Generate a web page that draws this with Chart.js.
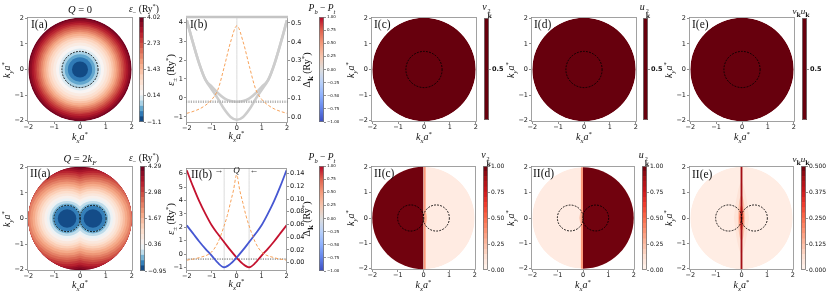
<!DOCTYPE html>
<html>
<head>
<meta charset="utf-8">
<title>Pairing in k-space</title>
<script src="https://cdn.jsdelivr.net/npm/chart.js@4.4.1/dist/chart.umd.min.js"></script>
<style>
  html, body { margin: 0; padding: 0; background: #fff; }
  body { position: relative; width: 831px; height: 295px; overflow: hidden; }
  canvas { position: absolute; }
  .lbl { position: absolute; font-family: "Liberation Serif", "DejaVu Serif", serif; color: #111; white-space: nowrap; line-height: 1; }
  .lbl sub, .lbl sup { font-size: 68%; line-height: 0; }
  .lbl b { font-family: "DejaVu Serif", serif; font-weight: bold; font-style: normal; }
  .ss { display: inline-flex; flex-direction: column; font-size: 62%; line-height: 0.95; vertical-align: -0.42em; margin-left: 1px; }
</style>
</head>
<body>
<script>
// ---- k-space axes ----
const kTicks = [-2, -1, 0, 1, 2];
const kDiskR = 2;          // k cutoff of the maps
const kyFull = 2.1;

// ---- I(a): eps_- at Q = 0, contour levels and the radius where each upper level is reached ----
const levelsIa = [-1.15, -0.89, -0.63, -0.37, -0.11, 0.14, 0.40, 0.66, 0.92, 1.18, 1.43, 1.69, 1.95, 2.21, 2.47, 2.73, 2.98, 3.24, 3.50, 3.76, 4.02];
const radiiIa = [0.31, 0.47, 0.59, 0.70, 0.81, 0.93, 1.04, 1.14, 1.23, 1.31, 1.39, 1.46, 1.53, 1.60, 1.67, 1.73, 1.80, 1.87, 1.94, 2.00];
const cbTicksIa = [-1.15, 0.14, 1.43, 2.73, 4.02];
const cbLabelsIa = ['\u22121.1', '0.14', '1.43', '2.73', '4.02'];

// ---- II(a): eps_- at Q = 2kF, two lobes; radius = distance to nearest lobe centre ----
const lobesIIa = [-0.5, 0.5];
const levelsIIa = [-0.95, -0.69, -0.43, -0.16, 0.10, 0.36, 0.62, 0.88, 1.15, 1.41, 1.67, 1.93, 2.19, 2.46, 2.72, 2.98, 3.24, 3.50, 3.77, 4.03, 4.29];
const radiiIIa = [0.36, 0.49, 0.58, 0.68, 0.78, 0.88, 0.98, 1.07, 1.16, 1.25, 1.34, 1.43, 1.52, 1.61, 1.69, 1.77, 1.85, 1.92, 1.99, 2.06];
const cbTicksIIa = [-0.95, 0.36, 1.67, 2.98, 4.29];
const cbLabelsIIa = ['\u22120.95', '0.36', '1.67', '2.98', '4.29'];

// ---- Fermi contours (dashed) ----
const fermiI = { centers: [0], radius: 0.70 };
const fermiII = { centers: [-0.5, 0.5], radius: 0.51 };

// ---- coherence factors ----
const coherI = 0.5;                       // v^2 = u^2 = vu = 0.5 everywhere at Q = 0
const flatLevels = [0.45, 0.55];
const levelsV2 = [0.00, 0.05, 0.10, 0.15, 0.20, 0.25, 0.30, 0.35, 0.40, 0.45, 0.50, 0.55, 0.60, 0.65, 0.70, 0.75, 0.80, 0.85, 0.90, 0.95, 1.00];
const cbTicksV2 = [0, 0.25, 0.5, 0.75, 1];
const levelsVU = [0.000, 0.025, 0.050, 0.075, 0.100, 0.125, 0.150, 0.175, 0.200, 0.225, 0.250, 0.275, 0.300, 0.325, 0.350, 0.375, 0.400, 0.425, 0.450, 0.475, 0.500];
const cbTicksVU = [0, 0.125, 0.25, 0.375, 0.5];

// II(c) v_k^2 : base value, then columns [kx from, kx to, value]
const v2IIcBase = 0.06;
const v2IIcCols = [[-2.1, 0.0, 0.98], [0.0, 0.09, 0.35]];
const v2IIcLensKx = [0.0, 0.05, 0.10, 0.15], v2IIcLensKy = [0, 0.28, 0.22, 0], v2IIcLensV = 0.22;
// II(d) u_k^2
const u2IIdBase = 0.06;
const u2IIdCols = [[0.0, 2.1, 0.98], [-0.09, 0.0, 0.35]];
const u2IIdLensKx = [-0.15, -0.10, -0.05, 0.0], u2IIdLensKy = [0, 0.22, 0.28, 0], u2IIdLensV = 0.22;
// II(e) v_k u_k
const vuIIeBase = 0.025;
const vuIIeLenses = [
  { kx: [-0.30, -0.15, 0, 0.15, 0.30], ky: [0, 1.0, 1.4, 1.0, 0], v: 0.05 },
  { kx: [-0.15, -0.08, 0, 0.08, 0.15], ky: [0, 0.7, 0.9, 0.7, 0], v: 0.11 },
  { kx: [-0.10, -0.05, 0, 0.05, 0.10], ky: [0, 0.4, 0.5, 0.4, 0], v: 0.22 }
];
const vuIIeCols = [[-0.045, 0.045, 0.44]];

// ---- I(b) dispersions at Q = 0 ----
const kLine = [-2, -1.75, -1.5, -1.25, -1, -0.75, -0.5, -0.25, 0, 0.25, 0.5, 0.75, 1, 1.25, 1.5, 1.75, 2];
const epsLowIb  = [4.1, 2.9, 1.8, 0.95, 0.45, -0.05, -0.6, -1.0, -1.15, -1.0, -0.6, -0.05, 0.45, 0.95, 1.8, 2.9, 4.1];
const epsHighIb = [4.1, 2.9, 1.8, 0.95, 0.6, 0.25, -0.02, -0.16, -0.2, -0.16, -0.02, 0.25, 0.6, 0.95, 1.8, 2.9, 4.1];
const gapIb = [0.022, 0.032, 0.045, 0.065, 0.095, 0.15, 0.27, 0.40, 0.485, 0.40, 0.27, 0.15, 0.095, 0.065, 0.045, 0.032, 0.022];
const muIb = -0.2;
const vlineIb = [0];
const epsTicksIb = [-1, 0, 1, 2, 3, 4];
const gapTicksIb = [0, 0.1, 0.2, 0.3, 0.4, 0.5];

// ---- II(b) dispersions at Q = 2kF ----
const epsBlueIIb = [2.15, 1.55, 0.95, 0.4, -0.1, -0.65, -0.97, -0.72, -0.25, 0.3, 0.9, 1.5, 2.15, 3.0, 3.95, 5.05, 6.25];
const epsRedIIb  = [6.25, 5.05, 3.95, 3.0, 2.15, 1.5, 0.9, 0.3, -0.25, -0.72, -0.97, -0.65, -0.1, 0.4, 0.95, 1.55, 2.15];
const kGapIIb = [-2, -1.5, -1, -0.75, -0.5, -0.375, -0.25, -0.125, 0, 0.125, 0.25, 0.375, 0.5, 0.75, 1, 1.5, 2];
const gapIIb  = [0.004, 0.008, 0.017, 0.032, 0.058, 0.074, 0.094, 0.114, 0.138, 0.114, 0.094, 0.074, 0.058, 0.032, 0.017, 0.008, 0.004];
const muIIb = -0.36;
const vlinesIIb = [-0.5, 0.5];
const epsTicksIIb = [-1, 0, 1, 2, 3, 4, 5, 6];
const gapTicksIIb = [0, 0.02, 0.04, 0.06, 0.08, 0.10, 0.12, 0.14];
const polTicks = [-1, -0.75, -0.5, -0.25, 0, 0.25, 0.5, 0.75, 1];

// ---- layout (px): [left, top, right, bottom] of each plot box ----
const boxes = {
  Ia: [27, 17, 133, 122], cbIa: [139, 17, 144, 122],
  Ib: [186, 16, 288, 123], cbIb: [319, 17, 324, 122],
  Ic: [371, 17, 477, 122], cbIc: [484, 18, 489, 120],
  Id: [531, 17, 637, 122], cbId: [643, 18, 648, 120],
  Ie: [689, 17, 795, 122], cbIe: [802, 18, 807, 120],
  IIa: [27, 166, 133, 271], cbIIa: [140, 166, 145, 271],
  IIb: [186, 168, 287, 271], cbIIb: [319, 166, 324, 271],
  IIc: [371, 166, 476, 270], cbIIc: [483, 166, 488, 270],
  IId: [531, 166, 635, 270], cbIId: [642, 166, 647, 270],
  IIe: [689, 166, 794, 270], cbIIe: [801, 166, 806, 270]
};
const kRange = [-2.05, 2.05];

Chart.defaults.font.family = 'DejaVu Sans';
Chart.defaults.animation = false;

// colour maps (matplotlib RdBu_r, Reds, coolwarm)
const RDBU_R = ['#053061', '#2166ac', '#4393c3', '#92c5de', '#d1e5f0', '#f7f7f7', '#fddbc7', '#f4a582', '#d6604d', '#b2182b', '#67001f'];
const REDS = ['#fff5f0', '#fee0d2', '#fcbba1', '#fc9272', '#fb6a4a', '#ef3b2c', '#cb181d', '#a50f15', '#67000d'];
const COOLWARM = ['#3b4cc0', '#6282ea', '#8db0fe', '#b8d0f9', '#dddddd', '#f5c4ad', '#f49a7b', '#de604d', '#b40426'];

function hex2rgb(h) { return [1, 3, 5].map(i => parseInt(h.slice(i, i + 2), 16)); }
function cmap(stops, t) {
  t = Math.min(1, Math.max(0, t));
  const p = t * (stops.length - 1), i = Math.min(Math.floor(p), stops.length - 2), f = p - i;
  const a = hex2rgb(stops[i]), b = hex2rgb(stops[i + 1]);
  return 'rgb(' + a.map((v, k) => Math.round(v + (b[k] - v) * f)).join(',') + ')';
}
const twoSlope = (v, lo, mid, hi) => v < mid ? 0.5 * (v - lo) / (mid - lo) : 0.5 + 0.5 * (v - mid) / (hi - mid);
const fmtInt = v => String(v).replace('-', '\u2212');
const fmtFix = n => v => v.toFixed(n).replace('-', '\u2212');

// ---- plugins ----
const frame = {
  id: 'frame',
  afterDraw(chart, args, o) {
    const { ctx, chartArea: a } = chart;
    ctx.save();
    ctx.strokeStyle = o.color || '#8a8a8a';
    ctx.lineWidth = 0.8;
    ctx.strokeRect(a.left + 0.5, a.top + 0.5, a.width - 1, a.height - 1);
    if (o.topWidth) {
      ctx.strokeStyle = o.topColor;
      ctx.lineWidth = o.topWidth;
      ctx.beginPath(); ctx.moveTo(a.left, a.top + 1); ctx.lineTo(a.right, a.top + 1); ctx.stroke();
    }
    ctx.restore();
  }
};
const diskClip = {
  id: 'diskClip',
  beforeDatasetsDraw(chart) {
    const { ctx, scales: { x, y } } = chart;
    const cx = x.getPixelForValue(0), cy = y.getPixelForValue(0);
    ctx.save();
    ctx.beginPath();
    ctx.arc(cx, cy, x.getPixelForValue(kDiskR) - cx, 0, 2 * Math.PI);
    ctx.clip();
  },
  afterDatasetsDraw(chart) { chart.ctx.restore(); }
};
const dashPts = {
  id: 'dashPts',
  beforeDatasetDraw(chart, args) {
    const d = chart.data.datasets[args.index].dash;
    if (d) chart.ctx.setLineDash(d);
  },
  afterDatasetDraw(chart) { chart.ctx.setLineDash([]); }
};

// ---- helpers ----
function addCanvas(x, y, w, h) {
  const c = document.createElement('canvas');
  c.width = w; c.height = h;
  c.style.left = x + 'px'; c.style.top = y + 'px';
  c.style.width = w + 'px'; c.style.height = h + 'px';
  document.body.appendChild(c);
  return c;
}

function linAxis(pos, range, ticks, labels, fit, size, bold) {
  const horiz = pos === 'bottom';
  return {
    type: 'linear', position: pos, min: range[0], max: range[1],
    afterBuildTicks: s => { s.ticks = ticks.map(value => ({ value })); },
    afterFit: s => {
      if (horiz) s.height = fit; else s.width = fit;
      s.paddingLeft = s.paddingRight = s.paddingTop = s.paddingBottom = 0;
    },
    grid: { drawOnChartArea: false, drawTicks: true, tickLength: 2, color: '#444', lineWidth: 0.6 },
    border: { display: false },
    ticks: {
      autoSkip: false, maxRotation: 0, padding: horiz ? 0 : 1, color: '#111',
      font: { family: 'DejaVu Sans', size: size || 6.5, weight: bold ? 'bold' : 'normal', lineHeight: 1 },
      callback: (v, i) => Array.isArray(labels) ? labels[i] : labels(v)
    }
  };
}

function baseOpts(scales, padTop, padRight, plugins) {
  return {
    responsive: false, animation: false, events: [],
    layout: { padding: { top: padTop, right: padRight, left: 0, bottom: 0 } },
    plugins: Object.assign({ legend: { display: false }, tooltip: { enabled: false } }, plugins || {}),
    scales
  };
}

const rpx = (chart, r) => chart.scales.x.getPixelForValue(r) - chart.scales.x.getPixelForValue(0);

function diskDs(points, order) {
  return {
    data: points, order,
    pointRadius: c => c.raw ? rpx(c.chart, c.raw.rad) : 0,
    pointHoverRadius: c => c.raw ? rpx(c.chart, c.raw.rad) : 0,
    pointBackgroundColor: c => c.raw ? c.raw.c : 'rgba(0,0,0,0)',
    pointBorderWidth: 0, pointHitRadius: 0
  };
}
function fermiDs(f) {
  return {
    data: f.centers.map(x => ({ x, y: 0, rad: f.radius })), order: 0, dash: [1.8, 1.3],
    pointRadius: c => c.raw ? rpx(c.chart, c.raw.rad) : 0,
    pointHoverRadius: c => c.raw ? rpx(c.chart, c.raw.rad) : 0,
    pointBackgroundColor: 'rgba(0,0,0,0)', pointBorderColor: '#000000', pointBorderWidth: 0.9
  };
}
function ringPoints(levels, radii, centers, colorOf) {
  const pts = [];
  for (let i = radii.length - 1; i >= 0; i--) {
    const c = colorOf((levels[i] + levels[i + 1]) / 2);
    centers.forEach(x => pts.push({ x, y: 0, rad: radii[i], c }));
  }
  return pts;
}
function colFill(col, colorOf, order) {
  return {
    type: 'line', data: [{ x: col[0], y: kyFull }, { x: col[1], y: kyFull }], fill: { value: -kyFull },
    backgroundColor: colorOf(col[2]), borderColor: 'rgba(0,0,0,0)', borderWidth: 0, pointRadius: 0, order
  };
}
function lensFill(xs, ys, color, order) {
  const common = { type: 'line', borderColor: 'rgba(0,0,0,0)', borderWidth: 0, pointRadius: 0, tension: 0.4, order };
  return [
    Object.assign({ data: xs.map((x, i) => ({ x, y: ys[i] })), fill: '+1', backgroundColor: color }, common),
    Object.assign({ data: xs.map((x, i) => ({ x, y: -ys[i] })), fill: false }, common)
  ];
}

function diskChart(box, datasets) {
  const ML = 22, MR = 3, MT = 3, MB = 15;
  const [l, t, r, b] = box;
  const cv = addCanvas(l - ML, t - MT, (r - l) + ML + MR, (b - t) + MT + MB);
  return new Chart(cv, {
    type: 'scatter',
    data: { datasets },
    options: baseOpts({
      x: linAxis('bottom', kRange, kTicks, fmtInt, MB),
      y: linAxis('left', kRange, kTicks, fmtInt, ML)
    }, MT, MR),
    plugins: [diskClip, dashPts, frame]
  });
}

function colorbar(box, bands, range, ticks, labels, size, bold) {
  const MT = 3, MB = 3, MR = 26;
  const [l, t, r, b] = box;
  const cv = addCanvas(l, t - MT, (r - l) + MR, (b - t) + MT + MB);
  return new Chart(cv, {
    type: 'bar',
    data: {
      labels: [''],
      datasets: bands.map(bd => ({
        data: [[bd.lo, bd.hi]], backgroundColor: bd.c, borderWidth: 0,
        barPercentage: 1, categoryPercentage: 1, grouped: false
      }))
    },
    options: Object.assign(baseOpts({
      x: { display: false },
      y: linAxis('right', range, ticks, labels, MR, size, bold)
    }, MT, 0, { frame: { color: '#777' } }), { layout: { padding: { top: MT, bottom: MB, left: 0, right: 0 } } }),
    plugins: [frame]
  });
}
const bandsOf = (levels, colorOf) => levels.slice(0, -1).map((lo, i) => ({ lo, hi: levels[i + 1], c: colorOf((lo + levels[i + 1]) / 2) }));

function lineChart(box, datasets, sc, frameOpt) {
  const ML = 14, MR = 20, MT = 3, MB = 15;
  const [l, t, r, b] = box;
  const cv = addCanvas(l - ML, t - MT, (r - l) + ML + MR, (b - t) + MT + MB);
  return new Chart(cv, {
    type: 'scatter',
    data: { datasets },
    options: baseOpts({
      x: linAxis('bottom', sc.x, kTicks, fmtInt, MB),
      y: linAxis('left', sc.y, sc.yTicks, fmtInt, ML),
      y2: linAxis('right', sc.y2, sc.y2Ticks, sc.y2Fmt, MR)
    }, MT, 0, { frame: frameOpt || {} }),
    plugins: [frame]
  });
}
const lineDs = (xs, ys, o) => Object.assign({
  type: 'line', data: xs.map((x, i) => ({ x, y: ys[i] })), pointRadius: 0,
  cubicInterpolationMode: 'monotone', yAxisID: 'y', fill: false
}, o);

// ======== Row I : Q = 0 ========
const colorIa = v => cmap(RDBU_R, twoSlope(v, levelsIa[0], 0.2, levelsIa[levelsIa.length - 1]));
diskChart(boxes.Ia, [fermiDs(fermiI), diskDs(ringPoints(levelsIa, radiiIa, [0], colorIa), 5)]);
colorbar(boxes.cbIa, bandsOf(levelsIa, colorIa), [levelsIa[0], levelsIa[20]], cbTicksIa, cbLabelsIa, 6);

const xIb = [-2.03, 2.04], yIb = [-1.32, 4.32], y2Ib = [-0.029, 0.537];
lineChart(boxes.Ib, [
  lineDs(kLine, gapIb, { yAxisID: 'y2', borderColor: 'rgba(246,152,72,0.9)', borderWidth: 1, borderDash: [3, 2], order: 0 }),
  lineDs(xIb, [muIb, muIb], { borderColor: '#b4b4b4', borderWidth: 2.6, borderDash: [1.2, 1.2], order: 1 }),
  lineDs(kLine, epsLowIb, { borderColor: '#cdcdcd', borderWidth: 2.6, order: 2 }),
  lineDs(kLine, epsHighIb, { borderColor: '#cdcdcd', borderWidth: 2.6, order: 2 }),
  lineDs([vlineIb[0], vlineIb[0]], yIb, { borderColor: '#cccccc', borderWidth: 0.7, order: 3 })
], { x: xIb, y: yIb, yTicks: epsTicksIb, y2: y2Ib, y2Ticks: gapTicksIb, y2Fmt: fmtFix(1) },
{ topWidth: 2.6, topColor: '#c4c4c4' });

const coolGrad = c => {
  const ch = c.chart;
  if (!ch.chartArea) return '#dddddd';
  const y = ch.scales.y;
  const g = ch.ctx.createLinearGradient(0, y.getPixelForValue(-1), 0, y.getPixelForValue(1));
  COOLWARM.forEach((s, i) => g.addColorStop(i / (COOLWARM.length - 1), s));
  return g;
};
colorbar(boxes.cbIb, [{ lo: -1, hi: 1, c: coolGrad }], [-1, 1], polTicks, fmtFix(2), 4);

const darkI = cmap(REDS, 1.0);
['Ic', 'Id', 'Ie'].forEach(p => {
  diskChart(boxes[p], [fermiDs(fermiI), diskDs([{ x: 0, y: 0, rad: kDiskR, c: darkI }], 5)]);
  colorbar(boxes['cb' + p], bandsOf(flatLevels, () => darkI), flatLevels, [coherI], ['0.5'], 6.5, true);
});

// ======== Row II : Q = 2kF ========
const colorIIa = v => cmap(RDBU_R, twoSlope(v, levelsIIa[0], 0.3, levelsIIa[levelsIIa.length - 1]));
diskChart(boxes.IIa, [fermiDs(fermiII), diskDs(ringPoints(levelsIIa, radiiIIa, lobesIIa, colorIIa), 5)]);
colorbar(boxes.cbIIa, bandsOf(levelsIIa, colorIIa), [levelsIIa[0], levelsIIa[20]], cbTicksIIa, cbLabelsIIa, 6);

const xIIb = [-2.03, 2.02], yIIb = [-1.25, 6.42], y2IIb = [-0.013, 0.1488];
lineChart(boxes.IIb, [
  lineDs(kGapIIb, gapIIb, { yAxisID: 'y2', borderColor: 'rgba(246,152,72,0.9)', borderWidth: 1, borderDash: [3, 2], order: 0 }),
  lineDs(kLine, epsBlueIIb, { borderColor: '#4657d2', borderWidth: 1.8, order: 1 }),
  lineDs(kLine, epsRedIIb, { borderColor: '#c4122f', borderWidth: 1.8, order: 1 }),
  lineDs(xIIb, [muIIb, muIIb], { borderColor: '#333333', borderWidth: 0.8, borderDash: [1.2, 1.2], order: 2 }),
  lineDs([vlinesIIb[0], vlinesIIb[0]], yIIb, { borderColor: '#cccccc', borderWidth: 0.7, order: 3 }),
  lineDs([vlinesIIb[1], vlinesIIb[1]], yIIb, { borderColor: '#cccccc', borderWidth: 0.7, order: 3 })
], { x: xIIb, y: yIIb, yTicks: epsTicksIIb, y2: y2IIb, y2Ticks: gapTicksIIb, y2Fmt: fmtFix(2) });
colorbar(boxes.cbIIb, [{ lo: -1, hi: 1, c: coolGrad }], [-1, 1], polTicks, fmtFix(2), 4);

const colorV2 = v => cmap(REDS, v);
const colorVU = v => cmap(REDS, v / 0.5);

diskChart(boxes.IIc, [
  fermiDs(fermiII),
  ...v2IIcCols.map(c => colFill(c, colorV2, 2)),
  ...lensFill(v2IIcLensKx, v2IIcLensKy, colorV2(v2IIcLensV), 3),
  diskDs([{ x: 0, y: 0, rad: kDiskR, c: colorV2(v2IIcBase) }], 5)
]);
colorbar(boxes.cbIIc, bandsOf(levelsV2, colorV2), [0, 1], cbTicksV2, fmtFix(2), 6);

diskChart(boxes.IId, [
  fermiDs(fermiII),
  ...u2IIdCols.map(c => colFill(c, colorV2, 2)),
  ...lensFill(u2IIdLensKx, u2IIdLensKy, colorV2(u2IIdLensV), 3),
  diskDs([{ x: 0, y: 0, rad: kDiskR, c: colorV2(u2IIdBase) }], 5)
]);
colorbar(boxes.cbIId, bandsOf(levelsV2, colorV2), [0, 1], cbTicksV2, fmtFix(2), 6);

diskChart(boxes.IIe, [
  fermiDs(fermiII),
  ...vuIIeCols.map(c => colFill(c, colorVU, 1)),
  ...vuIIeLenses.flatMap((ln, i) => lensFill(ln.kx, ln.ky, colorVU(ln.v), 4 - i)),
  diskDs([{ x: 0, y: 0, rad: kDiskR, c: colorVU(vuIIeBase) }], 6)
]);
colorbar(boxes.cbIIe, bandsOf(levelsVU, colorVU), [0, 0.5], cbTicksVU, fmtFix(3), 6);

// ======== text labels ========
function label(html, x, y, size, o) {
  o = o || {};
  const d = document.createElement('div');
  d.className = 'lbl';
  d.innerHTML = html;
  d.style.left = x + 'px'; d.style.top = y + 'px';
  d.style.fontSize = size + 'px';
  if (o.color) d.style.color = o.color;
  d.style.transform = 'translate(' + (o.left ? '0' : '-50%') + ',-50%)' + (o.rot ? ' rotate(-90deg)' : '');
  document.body.appendChild(d);
}
const kx = '<i>k</i><sub><i>x</i></sub><i>a</i><sup>*</sup>';
const ky = '<i>k</i><sub><i>y</i></sub><i>a</i><sup>*</sup>';
const epsM = '<i>\u03b5</i><sub>\u2212</sub> (Ry<sup>*</sup>)';
const epsPM = '<i>\u03b5</i><sub>\u00b1</sub> (Ry<sup>*</sup>)';
const gapLbl = '\u0394<sub><b>k</b></sub> (Ry<sup>*</sup>)';
const polLbl = '<i>P</i><sub><i>b</i></sub> \u2212 <i>P</i><sub><i>t</i></sub>';
const v2 = '<i>v</i><span class="ss"><span>2</span><b>k</b></span>';
const u2 = '<i>u</i><span class="ss"><span>2</span><b>k</b></span>';
const vu = '<i>v</i><sub><b>k</b></sub><i>u</i><sub><b>k</b></sub>';

[['I', 0], ['II', 149]].forEach(([row, dy]) => {
  const yc = 69.5 + dy, yx = 136.5 + dy - (row === 'II' ? 0.5 : 0);
  ['a', 'c', 'd', 'e'].forEach(p => {
    const bx = boxes[row + p];
    label(kx, (bx[0] + bx[2]) / 2, yx, 10);
    label(ky, bx[0] - 20, (bx[1] + bx[3]) / 2, 10, { rot: true });
  });
  label(kx, 236.5, yx - 1, 10);
  label(epsPM, 171, yc, 10, { rot: true });
  label(gapLbl, 307, yc, 10, { rot: true });
  label(epsM, 144, 9.5 + dy, 9.5);
  label(polLbl, 322, 8.5 + dy, 9.5);
});
label('<i>Q</i> = 0', 80, 9.5, 10.5);
label('<i>Q</i> = 2<i>k</i><sub><i>F</i></sub>', 80, 158.5, 10.5);
label(v2, 487, 11, 10); label(u2, 645, 11, 10); label(vu, 801, 11, 9);
label(v2, 486, 159, 10); label(u2, 644, 159, 10); label(vu, 801, 159, 9);

const panelTags = [
  ['I(a)', 31, 25], ['I(b)', 190, 25], ['I(c)', 374, 25], ['I(d)', 534, 25], ['I(e)', 692, 25],
  ['II(a)', 30, 174], ['II(b)', 191, 175], ['II(c)', 374, 174], ['II(d)', 533, 174], ['II(e)', 692, 175]
];
panelTags.forEach(([t, x, y]) => label(t, x, y, 11.5, { left: true }));

label('\u2192', 219, 170, 9, { color: '#444' });
label('<i>Q</i>', 236.5, 170, 9);
label('\u2190', 254, 170, 9, { color: '#444' });
</script>
</body>
</html>
